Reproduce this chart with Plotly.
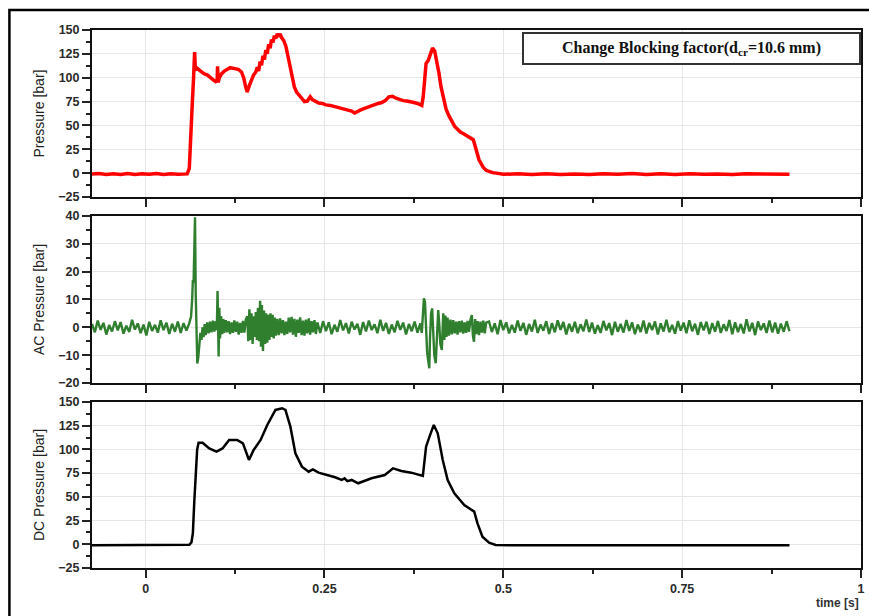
import plotly.graph_objects as go
from plotly.subplots import make_subplots

# ---------------- data ----------------
# Raw pressure (top panel)
red_t = [-0.075, -0.065, -0.055, -0.045, -0.035, -0.025, -0.015, -0.005, 0.005, 0.015, 0.025, 0.035,
         0.045, 0.053, 0.058, 0.061, 0.063, 0.065, 0.067, 0.0685, 0.0695, 0.072, 0.075, 0.078, 0.082,
         0.086, 0.090, 0.094, 0.098, 0.100, 0.1005, 0.1015, 0.103, 0.106, 0.110, 0.114, 0.118, 0.122,
         0.126, 0.130, 0.134, 0.137, 0.140, 0.142, 0.145, 0.148, 0.151, 0.154, 0.156, 0.158, 0.160,
         0.162, 0.164, 0.166, 0.168, 0.170, 0.172, 0.174, 0.176, 0.178, 0.180, 0.182, 0.184, 0.186,
         0.188, 0.190, 0.193, 0.196, 0.199, 0.202, 0.205, 0.208, 0.211, 0.214, 0.218, 0.222, 0.226,
         0.230, 0.233, 0.237, 0.242, 0.247, 0.252, 0.258, 0.263, 0.268, 0.273, 0.278, 0.283, 0.288,
         0.292, 0.296, 0.300, 0.305, 0.310, 0.315, 0.320, 0.325, 0.330, 0.335, 0.340, 0.345, 0.350,
         0.355, 0.360, 0.365, 0.370, 0.375, 0.380, 0.384, 0.386, 0.388, 0.390, 0.392, 0.395, 0.398,
         0.401, 0.404, 0.407, 0.410, 0.413, 0.416, 0.420, 0.424, 0.428, 0.432, 0.436, 0.440, 0.445,
         0.450, 0.455, 0.458, 0.460, 0.463, 0.466, 0.469, 0.472, 0.476, 0.480, 0.485, 0.490, 0.495,
         0.500, 0.520, 0.540, 0.560, 0.580, 0.600, 0.620, 0.640, 0.660, 0.680, 0.700, 0.720, 0.740,
         0.760, 0.780, 0.800, 0.820, 0.840, 0.860, 0.880, 0.900]
red_v = [-1.0, -0.4, -1.5, -0.6, -1.3, -0.5, -1.4, -0.7, -1.2, -0.4, -1.3, -0.6,
         -1.2, -0.5, -0.8, 5, 30, 70, 100, 127, 108, 110, 108, 106, 104,
         103, 100, 98, 96, 97, 112, 95, 100, 104, 107, 109, 110.5, 110,
         109.5, 108.5, 106, 100, 90, 85, 92, 98, 103, 106, 111, 107, 117,
         113, 123, 119, 129, 125, 135, 131, 140, 137, 144, 141, 146, 143,
         146, 142, 139, 133, 122, 110, 98, 90, 85, 82, 78, 75, 75.5,
         80, 77, 75, 73.5, 73, 71.5, 71, 70, 69.5, 68, 67, 66.5, 65,
         63, 65, 66, 67.5, 69, 70, 71.5, 73, 74, 76, 80, 80.5, 78.5,
         77, 76, 75.5, 75, 74, 73, 72, 71, 80, 105, 115, 118, 126,
         131, 128, 118, 105, 90, 78, 67, 60, 55, 49, 46, 43, 41,
         39, 37, 35, 30, 20, 14, 10, 6, 3, 1.5, 0.5, 0, -0.5,
         -1.2, -0.7, -1.4, -0.6, -1.3, -0.8, -1.5, -0.6, -1.2, -0.5, -1.4, -0.7, -1.3,
         -0.6, -1.2, -0.8, -1.4, -0.6, -1.1, -0.7, -1.2]

# AC pressure (middle panel): baseline noise segments (regular sampling) + bursts
ac_noise_a_start, ac_noise_step = -0.075, 0.004
ac_noise_a = [1.2, -1.8, 2.4, -0.9, 1.6, -2.6, 0.8, -1.5, 2.2, -1.1,
              1.9, -2.3, 0.6, -1.7, 2.7, -0.8, 1.4, -2.1, 1.0, -2.9,
              2.0, -1.3, 0.9, -1.9, 2.5, -1.0, 1.7, -2.4, 1.3, -1.6,
              2.1, -2.0, 1.5, -1.2, 1.5]
ac_burst1_t = [0.0635, 0.0650, 0.0660, 0.0670, 0.0680, 0.0690, 0.0700, 0.0710, 0.0722, 0.0735,
               0.0750, 0.0765, 0.0780, 0.0795, 0.0810, 0.0825, 0.0840, 0.0860, 0.0880, 0.0900,
               0.0920, 0.0940, 0.0960, 0.0980, 0.0995, 0.1005, 0.1012, 0.1020, 0.1030, 0.1040,
               0.1055, 0.1070, 0.1085, 0.1100, 0.1120, 0.1140, 0.1160, 0.1180, 0.1200, 0.1220,
               0.1240, 0.1260, 0.1280, 0.1300, 0.1320, 0.1340, 0.1360, 0.1380, 0.1400, 0.1420,
               0.1435, 0.1450, 0.1465, 0.1480, 0.1495, 0.1510, 0.1525, 0.1540, 0.1555, 0.1570,
               0.1585, 0.1600, 0.1612, 0.1625, 0.1640, 0.1655, 0.1670, 0.1685, 0.1700, 0.1715,
               0.1730, 0.1745, 0.1760, 0.1775, 0.1790, 0.1805, 0.1820, 0.1840, 0.1860, 0.1880,
               0.1900, 0.1920, 0.1940, 0.1960, 0.1980, 0.2000, 0.2020, 0.2040, 0.2060, 0.2080,
               0.2100, 0.2120, 0.2140, 0.2160, 0.2180, 0.2200, 0.2220, 0.2240, 0.2260, 0.2280,
               0.2300, 0.2320, 0.2340, 0.2360, 0.2380, 0.2400]
ac_burst1_v = [4, 10, 17, 16, 30, 39.5, 12, -6, -13, -11,
               -6, -2, -4.5, 0, -3.5, 1.2, -2.8, 1.8, -2.2, 2.0,
               -1.8, 2.4, -1.5, 2.2, -1.0, 13.0, 3, -10.5, 7, -4,
               4, -2.5, 3, -2, 2.6, -1.8, 2.2, -2.4, 1.8, -2.0,
               2.5, -1.6, 2.0, -2.6, 1.6, -2.0, 2.3, -1.9, 2.8, 4,
               -5, 6.5, -4.5, 5, -6, 4, -3.5, 5.5, -4.5, 7,
               -5, 9.5, -7, 8, -8.5, 6, -6, 5, -5.5, 4.5,
               -4.5, 5, -3.5, 4.5, -4, 3.5, -3, 3, -2.8, 3.2,
               -2.2, 2.6, -2.8, 2.0, -2.4, 3.5, -1.8, 3.8, -2.6, 3.0,
               -3.4, 2.8, -2.0, 3.6, -2.8, 2.4, -3.0, 2.8, -2.2, 3.2,
               -2.6, 2.2, -1.8, 2.6, -2.4, 1.8]
ac_noise_b_start = 0.244
ac_noise_b = [-2.0, 2.2, -1.4, 1.8, -2.5, 0.9, -1.6, 2.6, -1.1, 1.5,
              -2.2, 2.0, -0.8, 1.3, -2.7, 1.9, -1.5, 2.4, -1.0, 1.1,
              -2.1, 2.7, -1.3, 1.6, -2.4, 1.0, -1.8, 2.3, -0.9, 1.7,
              -2.6, 1.2, -1.4, 2.1, -1.9, 1.4]
ac_burst2_t = [0.3860, 0.3875, 0.3890, 0.3905, 0.3920, 0.3935, 0.3950, 0.3965, 0.3975, 0.3990,
               0.4005, 0.4020, 0.4035, 0.4055, 0.4070, 0.4090, 0.4105, 0.4120, 0.4140, 0.4160,
               0.4175, 0.4190, 0.4205, 0.4220, 0.4240, 0.4260, 0.4280, 0.4300, 0.4320, 0.4340,
               0.4360, 0.4380, 0.4400, 0.4420, 0.4440, 0.4460, 0.4480, 0.4500, 0.4520, 0.4540,
               0.4560, 0.4575, 0.4590, 0.4605, 0.4620, 0.4640, 0.4660, 0.4680, 0.4700, 0.4720,
               0.4740, 0.4760]
ac_burst2_v = [-2, 4, 10.4, 9, -3, -9, -12, -14.7, -4, 5,
               6.8, -3, -10, -12.9, -2, 6.2, 1, -6, -8.1, 5,
               -4.5, 4.2, -3.5, 3.5, -3.0, 2.8, -2.5, 2.6, -2.2, 2.0,
               -2.6, 2.2, -1.8, 2.4, -2.3, 1.8, -2.0, 2.3, -1.6, 2.6,
               4.4, -3, -5.2, 3.0, -2.4, 2.2, -2.8, 2.0, -1.9, 2.4,
               -2.2, 1.7]
ac_noise_c_start = 0.480
ac_noise_c = [2.1, -1.7, 1.4, -2.5, 2.6, -1.0, 1.8, -2.2, 0.9, -1.9,
              2.4, -1.3, 1.6, -2.7, 1.2, -1.5, 2.7, -2.0, 1.0, -1.2,
              2.2, -2.4, 1.5, -1.8, 2.5, -0.9, 1.9, -2.6, 1.3, -1.6,
              2.0, -2.1, 1.1, -1.4, 2.8, -1.7, 1.7, -2.3, 0.8, -2.0,
              2.3, -1.1, 1.5, -2.8, 2.0, -1.6, 1.2, -1.9, 2.6, -1.3,
              1.8, -2.5, 1.0, -1.7, 2.4, -2.2, 1.6, -1.0, 2.1, -2.6,
              1.4, -1.5, 2.7, -1.8, 0.9, -2.3, 2.2, -1.2, 1.7, -2.1,
              2.5, -1.4, 1.3, -2.7, 1.9, -1.1, 2.0, -2.4, 1.5, -1.6,
              2.3, -2.0, 1.1, -1.3, 2.6, -2.5, 1.8, -1.7, 1.2, -2.2,
              2.9, -1.5, 1.6, -2.8, 2.1, -1.0, 1.4, -2.0, 2.4, -1.8,
              1.7, -2.3, 1.3, -1.6, 2.2, -1.4]

# DC pressure (bottom panel)
dc_t = [-0.075, -0.05, -0.025, 0.0, 0.025, 0.047, 0.061, 0.064, 0.066, 0.068, 0.070, 0.072,
        0.074, 0.0796, 0.0889, 0.099, 0.1074, 0.1167, 0.128, 0.136, 0.1444, 0.151, 0.1607,
        0.170, 0.1815, 0.1907, 0.1954, 0.2023, 0.2093, 0.2185, 0.2278, 0.2338, 0.2417, 0.2648,
        0.274, 0.278, 0.282, 0.288, 0.297, 0.3157, 0.3343, 0.3458, 0.3574, 0.3713, 0.3875,
        0.392, 0.3968, 0.4028, 0.4083, 0.4153, 0.4222, 0.4315, 0.4454, 0.4593, 0.4639, 0.4708,
        0.4801, 0.4893, 0.52, 0.6, 0.7, 0.8, 0.9]
dc_v = [-1, -1, -0.8, -1, -0.9, -0.8, -0.5, 2, 11.6, 45, 82, 100,
        107, 107, 101, 97.6, 101, 110, 110, 106.4, 88.9, 99.4, 110,
        125.8, 141.6, 143.4, 141.6, 124, 95.9, 81.8, 76.5, 79, 75.5, 70.6,
        67.8, 69.5, 66.5, 67.8, 64.3, 69.6, 73, 80, 77.3, 75.5, 72,
        102.9, 113.4, 125.8, 117, 88.9, 67.8, 53.8, 41.4, 34.4, 22.1, 8,
        1.7, -0.75, -1, -1, -1, -1, -1]

x_ticks = [0, 0.25, 0.5, 0.75, 1]
x_ticktext = ["0", "0.25", "0.5", "0.75", "1"]
x_minor = [0.125, 0.375, 0.625, 0.875]

# ---------------- build series ----------------
ac_t, ac_v = [], []
for i, v in enumerate(ac_noise_a):
    ac_t.append(round(ac_noise_a_start + i * ac_noise_step, 4)); ac_v.append(v)
ac_t += ac_burst1_t; ac_v += ac_burst1_v
for i, v in enumerate(ac_noise_b):
    ac_t.append(round(ac_noise_b_start + i * ac_noise_step, 4)); ac_v.append(v)
ac_t += ac_burst2_t; ac_v += ac_burst2_v
for i, v in enumerate(ac_noise_c):
    ac_t.append(round(ac_noise_c_start + i * ac_noise_step, 4)); ac_v.append(v)

fig = make_subplots(rows=3, cols=1, shared_xaxes=True)
fig.add_trace(go.Scatter(x=red_t, y=red_v, mode="lines",
                         line=dict(color="#ff0000", width=3.5), showlegend=False), row=1, col=1)
fig.add_trace(go.Scatter(x=ac_t, y=ac_v, mode="lines",
                         line=dict(color="#2f7f2f", width=2.4), showlegend=False), row=2, col=1)
fig.add_trace(go.Scatter(x=dc_t, y=dc_v, mode="lines",
                         line=dict(color="#000000", width=2.5), showlegend=False), row=3, col=1)

tick_font = dict(family="Liberation Sans, Arial", size=12.5, color="#2a2a2a", weight="bold")
title_font = dict(family="Liberation Sans, Arial", size=14, color="#222222")

xcommon = dict(range=[-0.075, 1.0], tickmode="array", tickvals=x_ticks, ticktext=x_ticktext,
               ticks="outside", ticklen=8, tickwidth=2, tickcolor="#222222",
               minor=dict(tickmode="array", tickvals=x_minor, ticks="outside", ticklen=4,
                          tickwidth=1.5, tickcolor="#222222", showgrid=False),
               showgrid=True, gridcolor="#e6e6e6", gridwidth=1,
               showline=True, linecolor="#111111", linewidth=2, mirror=True,
               zeroline=False, tickfont=tick_font)
for r in (1, 2, 3):
    fig.update_xaxes(**xcommon, row=r, col=1)
fig.update_xaxes(showticklabels=False, row=1, col=1)
fig.update_xaxes(showticklabels=False, row=2, col=1)
fig.update_xaxes(showticklabels=True, row=3, col=1)

ycommon = dict(ticks="outside", ticklen=8, tickwidth=2, tickcolor="#222222",
               showgrid=True, gridcolor="#e6e6e6", gridwidth=1,
               showline=True, linecolor="#111111", linewidth=2, mirror=True,
               zeroline=False, tickfont=tick_font)
fig.update_yaxes(**ycommon, range=[-25, 150], tickmode="linear", tick0=0, dtick=25,
                 minor=dict(dtick=12.5, tick0=0, ticks="outside", ticklen=4, tickwidth=1.5,
                            tickcolor="#222222", showgrid=False),
                 domain=[0.6896, 1.0],
                 title=dict(text="Pressure [bar]", font=title_font, standoff=10), row=1, col=1)
fig.update_yaxes(**ycommon, range=[-20, 40], tickmode="linear", tick0=0, dtick=10,
                 minor=dict(dtick=5, tick0=0, ticks="outside", ticklen=4, tickwidth=1.5,
                            tickcolor="#222222", showgrid=False),
                 domain=[0.3439, 0.6543],
                 title=dict(text="AC Pressure [bar]", font=title_font, standoff=10), row=2, col=1)
fig.update_yaxes(**ycommon, range=[-25, 150], tickmode="linear", tick0=0, dtick=25,
                 minor=dict(dtick=12.5, tick0=0, ticks="outside", ticklen=4, tickwidth=1.5,
                            tickcolor="#222222", showgrid=False),
                 domain=[0.0, 0.3086],
                 title=dict(text="DC Pressure [bar]", font=title_font, standoff=10), row=3, col=1)

fig.update_layout(
    width=869, height=616,
    margin=dict(l=92, r=4, t=30, b=48),
    paper_bgcolor="white", plot_bgcolor="white",
    showlegend=False,
    annotations=[
        dict(text="<b>Change Blocking factor(d<sub>cr</sub>=10.6 mm)</b>",
             xref="paper", yref="paper", x=0.7795, y=0.9963, xanchor="center", yanchor="top",
             showarrow=False, bgcolor="white", bordercolor="#333333", borderwidth=2,
             borderpad=2, width=331, height=25,
             font=dict(family="Liberation Serif, Times New Roman", size=16, color="#111111")),
        dict(text="<b>time [s]</b>", xref="paper", yref="paper", x=1.0, y=-0.065,
             xanchor="right", yanchor="middle", showarrow=False,
             font=dict(family="Liberation Sans, Arial", size=12, color="#333333")),
    ],
    shapes=[
        dict(type="rect", xref="paper", yref="paper", x0=-0.1074, x1=1.06, y0=-0.25, y1=1.0372,
             line=dict(color="black", width=2.5), fillcolor="rgba(0,0,0,0)", layer="above"),
    ],
)

fig.write_html("out.html")
